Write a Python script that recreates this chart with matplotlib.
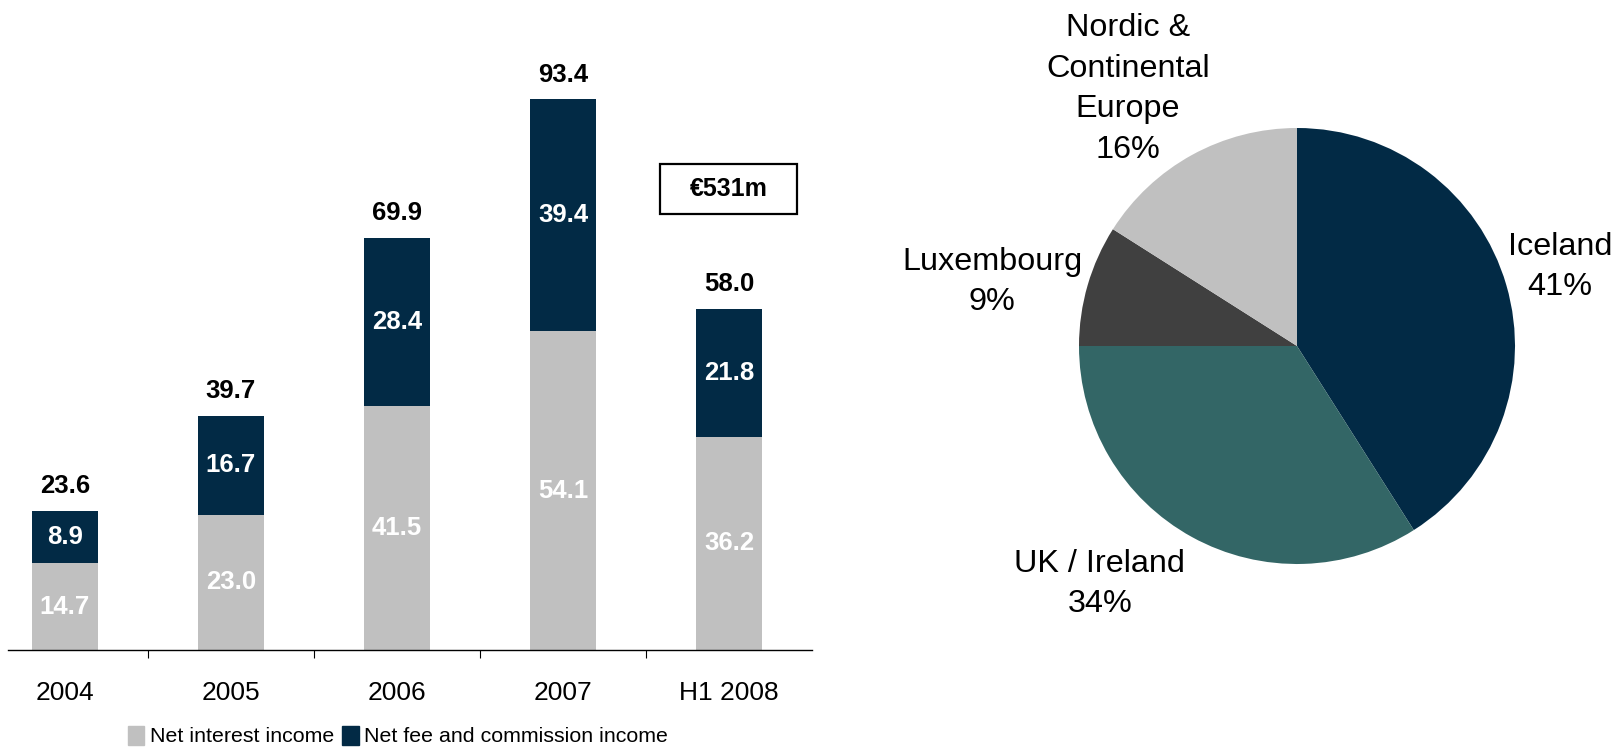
import matplotlib
matplotlib.use("Agg")
import matplotlib.pyplot as plt
from matplotlib.patches import Rectangle, Patch

plt.rcParams['font.family'] = ['Liberation Sans', 'DejaVu Sans']

# --- data ---
years = ['2004', '2005', '2006', '2007', 'H1 2008']
net_interest = [14.7, 23.0, 41.5, 54.1, 36.2]
net_fee = [8.9, 16.7, 28.4, 39.4, 21.8]
totals = [23.6, 39.7, 69.9, 93.4, 58.0]
total_label = '€531m'

regions = ['Iceland', 'UK / Ireland', 'Luxembourg', 'Nordic &\nContinental\nEurope']
shares = [41, 34, 9, 16]

GRAY = '#C0C0C0'
NAVY = '#022A45'
TEAL = '#336666'
DARK = '#404040'

W, H = 1623, 749
fig = plt.figure(figsize=(W / 100, H / 100), dpi=100)

# === bar chart ===
ax = fig.add_axes([8 / W, 99 / H, 804 / W, 640 / H])
x = range(len(years))
ax.bar(x, net_interest, width=0.4, color=GRAY)
ax.bar(x, net_fee, width=0.4, bottom=net_interest, color=NAVY)

for i in x:
    ax.text(i, net_interest[i] / 2, f'{net_interest[i]:.1f}', ha='center', va='center',
            color='white', fontsize=18.5, fontweight='bold')
    ax.text(i, net_interest[i] + net_fee[i] / 2, f'{net_fee[i]:.1f}', ha='center', va='center',
            color='white', fontsize=18.5, fontweight='bold')
    ax.annotate(f'{totals[i]:.1f}', (i, totals[i]), xytext=(0, 18), textcoords='offset points',
                ha='center', va='center', fontsize=18.5, fontweight='bold')

ax.set_xlim(-0.343, 4.5)
ax.set_ylim(0, 108.7)
for s in ['top', 'right', 'left']:
    ax.spines[s].set_visible(False)
ax.spines['bottom'].set_linewidth(1.0)
ax.set_yticks([])
ax.set_xticks(list(x))
ax.set_xticklabels(years, fontsize=19)
ax.set_xticks([0.5, 1.5, 2.5, 3.5], minor=True)
ax.tick_params(axis='x', which='major', length=0, pad=22)
ax.tick_params(axis='x', which='minor', length=6, width=0.8, direction='out')

fig.legend(handles=[Patch(color=GRAY, label='Net interest income'),
                    Patch(color=NAVY, label='Net fee and commission income')],
           loc='center', bbox_to_anchor=(398 / W, 1 - 736 / H), ncol=2, frameon=False,
           fontsize=15.4, handlelength=0.75, handleheight=1.0, handletextpad=0.25,
           columnspacing=0.4, borderaxespad=0)

# total box
fig.patches.append(Rectangle((660 / W, (H - 214) / H), 137 / W, 50 / H, transform=fig.transFigure,
                             facecolor='white', edgecolor='black', linewidth=1.6))
fig.text(728.5 / W, 1 - 189 / H, total_label, ha='center', va='center',
         fontsize=18, fontweight='bold')

# === pie chart ===
pax = fig.add_axes([(1297 - 300) / W, (H - 346 - 300) / H, 600 / W, 600 / H])
pax.pie(shares, colors=[NAVY, TEAL, DARK, GRAY], startangle=90, counterclock=False,
        radius=1.0, wedgeprops=dict(linewidth=0))
pax.set_xlim(-300 / 218, 300 / 218)
pax.set_ylim(-300 / 218, 300 / 218)
pax.set_aspect('equal')
pax.axis('off')

label_pos = [(1.206, 0.362), (-0.904, -1.092), (-1.399, 0.294), (-0.775, 1.179)]
for name, pct, (lx, ly) in zip(regions, shares, label_pos):
    pax.text(lx, ly, f'{name}\n{pct}%', ha='center', va='center', fontsize=23.3,
             linespacing=1.45)

fig.savefig('out.png', dpi=100)
